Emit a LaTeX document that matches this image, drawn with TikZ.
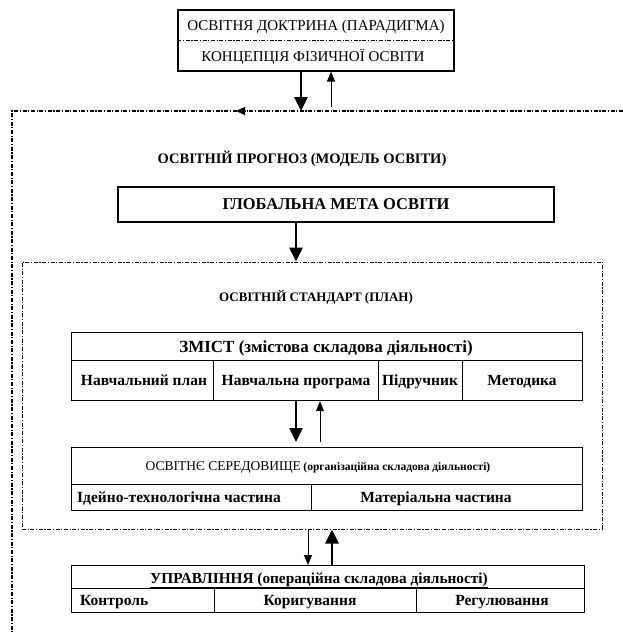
\documentclass[tikz,border=0pt]{standalone}
\usepackage{fontspec}
\setmainfont{Liberation Serif}
\usetikzlibrary{positioning,arrows.meta}

\newcommand{\cellfont}{\bfseries\fontsize{15.5}{17}\selectfont}

\tikzset{
  framebox/.style={draw, line width=1.2pt, inner sep=0pt},
  cell/.style={framebox, anchor=north west},
  celltext/.style={font=\cellfont, inner sep=0pt, anchor=base},
  loopline/.style={line width=1.4pt, dash pattern=on 4pt off 1.6pt on 1.2pt off 1.6pt},
  planline/.style={line width=1pt, dash pattern=on 4pt off 1.6pt on 1.2pt off 1.6pt},
  bigarrow/.style={line width=2.8pt, -{Triangle[length=14pt,width=13pt]}},
  smallarrow/.style={line width=1pt, -{Triangle[length=10pt,width=8pt]}},
}

\begin{document}
\begin{tikzpicture}[x=1pt,y=-1pt]
    \useasboundingbox (0,0) rectangle (623,632);

    % Doctrine box
    \node[framebox, minimum width=276pt, minimum height=61pt] (doctrine) at (316,40.5) {};
    \coordinate (docsep) at (0,40);
    \draw[planline, line width=0.8pt] (doctrine.west |- docsep) -- (doctrine.east |- docsep);
    \node[celltext, font=\fontsize{15}{15}\selectfont] (doctrinetext) at (316,30.5) {ОСВІТНЯ ДОКТРИНА (ПАРАДИГМА)};
    \node[celltext, font=\fontsize{15}{15}\selectfont] (concepttext) at (313,61.5) {КОНЦЕПЦІЯ ФІЗИЧНОЇ ОСВІТИ};

    % Feedback loop
    \coordinate (looptip) at (236,111);
    \coordinate (loopcorner) at (12,111);
    \coordinate (loopright) at (623,111);
    \coordinate (loopend) at (12,632);
    \draw[loopline] (loopright) -- (looptip) -- (loopcorner) -- (loopend);
    \draw[line width=1.2pt, -{Triangle[length=9pt,width=8pt]}] ([xshift=10pt]looptip) -- (looptip);

    % Doctrine arrows
    \coordinate (down1) at (301,111);
    \coordinate (up1) at (331,107);
    \draw[bigarrow] (doctrine.south -| down1) -- (down1);
    \draw[smallarrow] (up1) -- (doctrine.south -| up1);

    % Forecast
    \node[celltext, font=\bfseries\fontsize{14.5}{15}\selectfont] (forecast) at (302,163) {ОСВІТНІЙ ПРОГНОЗ (МОДЕЛЬ ОСВІТИ)};
    \node[framebox, minimum width=436pt, minimum height=35pt, font=\bfseries\fontsize{16.5}{17}\selectfont] (goal) at (336,204.5) {ГЛОБАЛЬНА МЕТА ОСВІТИ};

    % Standard box
    \node[draw, planline, minimum width=580pt, minimum height=267pt, inner sep=0pt] (standard) at (312,395.5) {};
    \coordinate (down2) at (296,0);
    \draw[bigarrow] (goal.south -| down2) -- (standard.north -| down2);
    \node[celltext, font=\bfseries\fontsize{13}{13}\selectfont] (standardtitle) at (316,301.5) {ОСВІТНІЙ СТАНДАРТ (ПЛАН)};

    % Content table
    \node[cell, minimum width=511pt, minimum height=28pt] (content) at (71,332) {};
    \node[celltext, font=\bfseries\fontsize{17}{17}\selectfont] (contenttext) at (326,352) {ЗМІСТ (змістова складова діяльності)};
    \foreach \x/\w/\tx/\name/\txt in {71/142pt/144/plan/Навчальний план,
                                      213/165pt/296/program/Навчальна програма,
                                      378/84pt/420/textbook/Підручник,
                                      462/120pt/522/method/Методика} {
        \node[cell, minimum width=\w, minimum height=40pt] (\name) at (\x,360) {};
        \node[celltext] (\name text) at (\tx,385) {\txt};
    }

    % Environment table
    \node[cell, minimum width=511pt, minimum height=37pt] (environment) at (71,447) {};
    \node[celltext, font=\normalfont] (environmenttext) at (318,470.5)
        {{\fontsize{13.5}{14}\selectfont ОСВІТНЄ СЕРЕДОВИЩЕ} {\bfseries\fontsize{11.5}{12}\selectfont (організаційна складова діяльності)}};
    \node[cell, minimum width=240pt, minimum height=26pt] (ideal) at (71,484) {};
    \node[celltext, anchor=base west] (idealtext) at (77,502) {Ідейно-технологічна частина};
    \node[cell, minimum width=271pt, minimum height=26pt] (material) at (311,484) {};
    \node[celltext] (materialtext) at (436,502) {Матеріальна частина};

    % Content <-> environment
    \coordinate (down3) at (296,0);
    \coordinate (up3) at (320,0);
    \draw[bigarrow, shorten >=5pt] (program.south -| down3) -- (environment.north -| down3);
    \draw[smallarrow, shorten <=5pt] (environment.north -| up3) -- (program.south -| up3);

    % Management table
    \node[cell, minimum width=513pt, minimum height=23pt] (management) at (71,565) {};
    \node[celltext, font=\bfseries\fontsize{15.3}{16}\selectfont] (managementtext) at (319,583) {\underline{УПРАВЛІННЯ (операційна складова діяльності)}};
    \node[cell, minimum width=143pt, minimum height=24pt] (control) at (71,588) {};
    \node[celltext, anchor=base west] (controltext) at (80,605) {Контроль};
    \foreach \x/\w/\tx/\name/\txt in {214/202pt/310/correction/Коригування,
                                      416/168pt/502/regulation/Регулювання} {
        \node[cell, minimum width=\w, minimum height=24pt] (\name) at (\x,588) {};
        \node[celltext] (\name text) at (\tx,605) {\txt};
    }

    % Standard <-> management
    \coordinate (down4) at (308,0);
    \coordinate (up4) at (332,0);
    \draw[smallarrow] (standard.south -| down4) -- (management.north -| down4);
    \draw[bigarrow] (management.north -| up4) -- (standard.south -| up4);
\end{tikzpicture}
\end{document}
